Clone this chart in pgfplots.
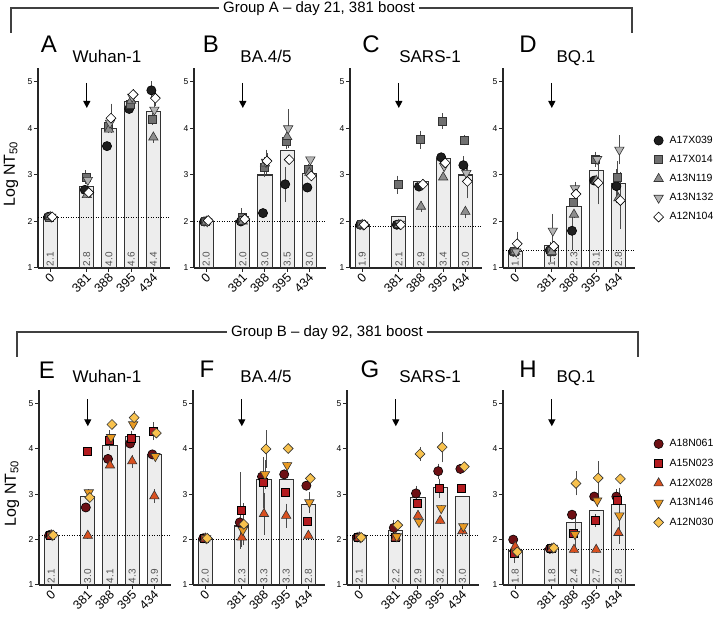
\documentclass[border=0pt]{standalone}
\usepackage{pgfplots}
\pgfplotsset{compat=1.18}
\usepackage{pgfplotstable}
\usepackage{fontspec}
\setmainfont{Liberation Sans}
\usetikzlibrary{arrows.meta}

\definecolor{barfill}{HTML}{EDEDED}
\definecolor{baredge}{HTML}{333333}
\definecolor{labgray}{HTML}{505050}
\definecolor{gA1}{HTML}{1E1E1E}
\definecolor{gA2}{HTML}{707070}
\definecolor{gA3}{HTML}{8E8E8E}
\definecolor{gA4}{HTML}{B4B4B4}
\definecolor{gA5}{HTML}{FFFFFF}
\definecolor{gB1}{HTML}{6E1014}
\definecolor{gB2}{HTML}{B31B1F}
\definecolor{gB3}{HTML}{D9501F}
\definecolor{gB4}{HTML}{E99A22}
\definecolor{gB5}{HTML}{F8C24E}

\newcommand\fLetter{\fontsize{24}{28}\selectfont}
\newcommand\fTitle{\fontsize{17}{20}\selectfont}
\newcommand\fGroup{\fontsize{15}{18}\selectfont}
\newcommand\fXt{\fontsize{12.5}{14}\selectfont}
\newcommand\fYt{\fontsize{8.5}{10}\selectfont}
\newcommand\fLeg{\fontsize{10.5}{12}\selectfont}
\newcommand\fBar{\fontsize{10}{12}\selectfont}
\newcommand\fYl{\fontsize{16}{19}\selectfont}

\tikzset{
 mA1/.style={mark=*, mark size=4.6pt, mark options={fill=gA1, draw=black, line width=0.6pt}},
 mA2/.style={mark=square*, mark size=4pt, mark options={fill=gA2, draw=black!80, line width=0.6pt}},
 mA3/.style={mark=triangle*, mark size=5.4pt, mark options={fill=gA3, draw=black!80, line width=0.6pt}},
 mA4/.style={mark=triangle*, mark size=5.4pt, mark options={rotate=180, fill=gA4, draw=black!80, line width=0.6pt}},
 mA5/.style={mark=square*, mark size=3.5pt, mark options={rotate=45, fill=gA5, draw=black, line width=0.6pt}},
 mB1/.style={mark=*, mark size=4.6pt, mark options={fill=gB1, draw=black, line width=0.6pt}},
 mB2/.style={mark=square*, mark size=4pt, mark options={fill=gB2, draw=black, line width=0.6pt}},
 mB3/.style={mark=triangle*, mark size=5.4pt, mark options={fill=gB3, draw=black!80, line width=0.6pt}},
 mB4/.style={mark=triangle*, mark size=5.4pt, mark options={rotate=180, fill=gB4, draw=black!80, line width=0.6pt}},
 mB5/.style={mark=square*, mark size=3.5pt, mark options={rotate=45, fill=gB5, draw=black!80, line width=0.6pt}},
}

\pgfplotsset{
 errs/.style={/pgfplots/error bars/y dir=both, /pgfplots/error bars/y explicit,
   /pgfplots/error bars/error bar style={line width=0.7pt, black!70},
   /pgfplots/error bars/error mark options={mark size=3pt, line width=0.7pt, black!70}},
 panel/.style={
  scale only axis, width=132pt,
  xmin=-0.55, xmax=5.4, ymin=1, ymax=5.3,
  axis x line*=bottom, axis y line*=left,
  axis line style={-, line width=1.1pt, black!85},
  every outer x axis line/.append style={-},
  every outer y axis line/.append style={-},
  xtick={0,1.65,2.65,3.65,4.65}, xticklabels={0,381,388,395,434},
  ytick={1,2,3,4,5}, yticklabels={1,2,3,4,5},
  tick align=outside, major tick length=4pt,
  tick style={line width=1pt, black!85},
  xticklabel style={font=\fXt, xshift=2.5pt, yshift=-3pt, rotate=45, anchor=east, inner sep=0.5pt},
  yticklabel style={font=\fYt, inner sep=1.5pt},
  ylabel style={font=\fYl, at={(axis description cs:-0.205,0.47)}, anchor=center},
  anchor=south west,
 },
 legA/.style={legend style={draw=none, fill=none, at={(axis description cs:1.14,0.668)}, anchor=north west,
   font=\fLeg, row sep=7.3pt, column sep=4.5pt, inner sep=0pt, nodes={inner sep=1.5pt}}, legend cell align=left},
}

\newcommand{\pts}[5]{\addplot[#1, only marks, errs] table[x expr=\thisrow{p}+(#2), y=#3, y error=#4]{#5};}
\newcommand{\panelbody}[5]{%
 \addplot[ybar, bar width=0.64, bar shift=0pt, fill=barfill, draw=baredge, line width=1.1pt] table[x=p,y=bar]{#1};
 \addplot[only marks, mark=*, mark size=0.01pt, mark options={draw=none, fill=none}, nodes near coords, point meta=explicit symbolic,
   nodes near coords style={rotate=90, anchor=west, font=\fBar, text=labgray, inner sep=1.5pt}] table[x=p, y expr=1, meta=lab]{#1};
 \addplot[black, line width=0.8pt, dash pattern=on 1pt off 1.5pt] coordinates {(-0.55,#2) (5.4,#2)};
 \draw[-{Triangle[length=7pt, width=7pt]}, line width=1.3pt] (axis cs:1.65,#4) -- (axis cs:1.65,#5);
 \pts{m#31}{-0.09}{a}{ea}{#1}
 \pts{m#32}{-0.045}{b}{eb}{#1}
 \pts{m#33}{0}{c}{ec}{#1}
 \pts{m#34}{0.045}{d}{ed}{#1}
 \pts{m#35}{0.09}{e}{ee}{#1}
}

% columns: position, bar height, bar label, then value/error for the five animals
\pgfplotstableread{
p    bar  lab a    ea   b    eb   c    ec   d    ed   e    ee
0    2.1  2.1 2.1  0    2.1  0    2.1  0    2.1  0    2.1  0
1.65 2.75 2.8 2.68 0    2.96 0.08 2.57 0    2.89 0.05 2.62 0
2.65 4.0  4.0 3.62 0    4.05 0.08 3.98 0    4.12 0    4.22 0.25
3.65 4.58 4.6 4.42 0    4.53 0.05 4.6  0    4.68 0    4.73 0.05
4.65 4.37 4.4 4.82 0.13 4.2  0.06 3.81 0.05 4.4  0.1  4.65 0.1
}\tA
\pgfplotstableread{
p    bar  lab a    ea   b    eb   c    ec   d    ed   e    ee
0    2.0  2.0 2.0  0    2.0  0    2.0  0    2.0  0    2.02 0
1.65 2.03 2.0 2.0  0    2.1  0.12 2.0  0    2.05 0    2.05 0
2.65 3.0  3.0 2.18 0    3.17 0.15 3.25 0    3.28 0.2  3.3  0.1
3.65 3.53 3.5 2.8  0.31 3.72 0.1  3.82 0    4.0  0.35 3.33 0
4.65 3.03 3.0 2.73 0    3.13 0.05 3.05 0    3.33 0    2.98 0
}\tB
\pgfplotstableread{
p    bar  lab a    ea   b    eb   c    ec   d    ed   e    ee
0    1.93 1.9 1.93 0    1.93 0    1.93 0    1.93 0    1.93 0
1.65 2.1  2.1 1.93 0    2.79 0.13 1.93 0    1.95 0    1.93 0
2.65 2.86 2.9 2.75 0    3.76 0.13 2.32 0.05 2.8  0.05 2.8  0
3.65 3.36 3.4 3.38 0    4.16 0.1  2.95 0    3.19 0    3.26 0
4.65 3.0  3.0 3.21 0.13 3.75 0.05 2.21 0.06 3.04 0.1  2.86 0.3
}\tC
\pgfplotstableread{
p    bar  lab a    ea   b    eb   c    ec   d    ed   e    ee
0    1.36 1.4 1.35 0    1.35 0    1.35 0    1.35 0    1.52 0.2
1.65 1.48 1.5 1.38 0    1.35 0.15 1.35 0    1.8  0.3  1.47 0
2.65 2.32 2.3 1.8  0.35 2.42 0    2.15 0    2.71 0.08 2.59 0
3.65 3.1  3.1 2.88 0    3.34 0.1  2.88 0    3.34 0    2.83 0.4
4.65 2.82 2.8 2.76 0.3  2.94 0.3  2.5  0    3.54 0.25 2.45 0.55
}\tD
\pgfplotstableread{
p    bar  lab a    ea   b    eb   c    ec   d    ed   e    ee
0    2.1  2.1 2.1  0    2.1  0    2.1  0    2.1  0    2.1  0
1.65 2.95 3.0 2.71 0    3.95 0    2.09 0    3.04 0    2.93 0
2.65 4.07 4.1 3.78 0    4.2  0.15 3.64 0    4.26 0    4.54 0
3.65 4.27 4.3 4.12 0    4.24 0.1  3.73 0.08 4.54 0    4.69 0.08
4.65 3.87 3.9 3.88 0    4.39 0.13 2.96 0.08 3.84 0    4.35 0
}\tE
\pgfplotstableread{
p    bar  lab a    ea   b    eb   c    ec   d    ed   e    ee
0    2.03 2.0 2.03 0    2.03 0    2.03 0    2.03 0    2.03 0
1.65 2.3  2.3 2.38 0    2.64 0.78 2.05 0.15 2.21 0    2.34 0.4
2.65 3.32 3.3 3.39 0    3.26 0.5  2.57 0.4  3.44 0.25 4.0  0.35
3.65 3.33 3.3 3.44 0    3.04 0    2.53 0.2  3.64 0    4.01 0
4.65 2.77 2.8 3.19 0    2.4  0    2.09 0    2.82 0.17 3.35 0.05
}\tF
\pgfplotstableread{
p    bar  lab a    ea   b    eb   c    ec   d    ed   e    ee
0    2.1  2.1 2.05 0    2.05 0    2.05 0    2.05 0    2.05 0
1.65 2.2  2.2 2.26 0.1  2.05 0    2.05 0    2.07 0    2.32 0
2.65 2.93 2.9 3.02 0.1  2.8  0    2.53 0    2.39 0    3.89 0.08
3.65 3.15 3.2 3.51 0.1  3.13 0.15 2.42 0    2.69 0    4.04 0.27
4.65 2.95 3.0 3.56 0    3.13 0    2.19 0.05 2.29 0    3.61 0
}\tG
\pgfplotstableread{
p    bar  lab a    ea   b    eb   c    ec   d    ed   e    ee
0    1.75 1.8 2.0  0    1.7  0.15 1.85 0    1.73 0    1.73 0
1.65 1.8  1.8 1.8  0    1.8  0    1.8  0    1.82 0    1.82 0
2.65 2.37 2.4 2.55 0    2.15 0    1.78 0    2.12 0.3  3.24 0.2
3.65 2.65 2.7 2.95 0    2.42 0.08 1.78 0    2.86 0.08 3.36 0.3
4.65 2.77 2.8 2.95 0.1  2.86 0    2.15 0    2.53 0.55 3.34 0
}\tH

\begin{document}
\begin{tikzpicture}
\useasboundingbox (0,0) rectangle (720pt,618pt);

% group brackets
\draw[line width=1.1pt, black!75] (11pt,585pt) -- (11pt,610pt) -- (632pt,610pt) -- (632pt,585pt);
\node[fill=white, inner xsep=4pt, inner ysep=2pt, font=\fGroup, anchor=base] at (319pt,605pt) {Group A \textendash{} day 21, 381 boost};
\draw[line width=1.1pt, black!75] (17pt,261pt) -- (17pt,286pt) -- (638pt,286pt) -- (638pt,261pt);
\node[fill=white, inner xsep=4pt, inner ysep=2pt, font=\fGroup, anchor=base] at (327pt,281pt) {Group B \textendash{} day 92, 381 boost};

% top row
\begin{axis}[panel, at={(38pt,350pt)}, height=200pt, ylabel={Log NT\textsubscript{50}}]
\panelbody{\tA}{2.08}{A}{4.98}{4.44}
\end{axis}
\begin{axis}[panel, at={(194pt,350pt)}, height=200pt]
\panelbody{\tB}{2.0}{A}{4.98}{4.44}
\end{axis}
\begin{axis}[panel, at={(350pt,350pt)}, height=200pt]
\panelbody{\tC}{1.9}{A}{4.98}{4.44}
\end{axis}
\begin{axis}[panel, at={(503pt,350pt)}, height=200pt, legA]
\addlegendimage{only marks, mA1}\addlegendentry{A17X039}
\addlegendimage{only marks, mA2}\addlegendentry{A17X014}
\addlegendimage{only marks, mA3}\addlegendentry{A13N119}
\addlegendimage{only marks, mA4}\addlegendentry{A13N132}
\addlegendimage{only marks, mA5}\addlegendentry{A12N104}
\panelbody{\tD}{1.37}{A}{4.98}{4.44}
\end{axis}

% bottom row
\begin{axis}[panel, at={(39pt,33pt)}, height=195pt, ylabel={Log NT\textsubscript{50}}]
\panelbody{\tE}{2.1}{B}{5.1}{4.5}
\end{axis}
\begin{axis}[panel, at={(193pt,33pt)}, height=195pt]
\panelbody{\tF}{2.0}{B}{5.1}{4.5}
\end{axis}
\begin{axis}[panel, at={(347pt,33pt)}, height=195pt]
\panelbody{\tG}{2.1}{B}{5.1}{4.5}
\end{axis}
\begin{axis}[panel, at={(503pt,33pt)}, height=195pt, legA, legend style={at={(axis description cs:1.14,0.755)}, row sep=7.8pt}]
\addlegendimage{only marks, mB1}\addlegendentry{A18N061}
\addlegendimage{only marks, mB2}\addlegendentry{A15N023}
\addlegendimage{only marks, mB3}\addlegendentry{A12X028}
\addlegendimage{only marks, mB4}\addlegendentry{A13N146}
\addlegendimage{only marks, mB5}\addlegendentry{A12N030}
\panelbody{\tH}{1.78}{B}{5.1}{4.5}
\end{axis}

% panel letters and titles
\node[font=\fLetter, anchor=base] at (49pt,565pt) {A};
\node[font=\fTitle, anchor=base] at (107pt,555pt) {Wuhan-1};
\node[font=\fLetter, anchor=base] at (211pt,565pt) {B};
\node[font=\fTitle, anchor=base] at (266pt,555pt) {BA.4/5};
\node[font=\fLetter, anchor=base] at (371pt,565pt) {C};
\node[font=\fTitle, anchor=base] at (430pt,555pt) {SARS-1};
\node[font=\fLetter, anchor=base] at (528pt,565pt) {D};
\node[font=\fTitle, anchor=base] at (576pt,555pt) {BQ.1};
\node[font=\fLetter, anchor=base] at (47pt,239pt) {E};
\node[font=\fTitle, anchor=base] at (107pt,235pt) {Wuhan-1};
\node[font=\fLetter, anchor=base] at (207pt,240pt) {F};
\node[font=\fTitle, anchor=base] at (266pt,235pt) {BA.4/5};
\node[font=\fLetter, anchor=base] at (370pt,240pt) {G};
\node[font=\fTitle, anchor=base] at (430pt,235pt) {SARS-1};
\node[font=\fLetter, anchor=base] at (528pt,240pt) {H};
\node[font=\fTitle, anchor=base] at (576pt,235pt) {BQ.1};
\end{tikzpicture}
\end{document}
